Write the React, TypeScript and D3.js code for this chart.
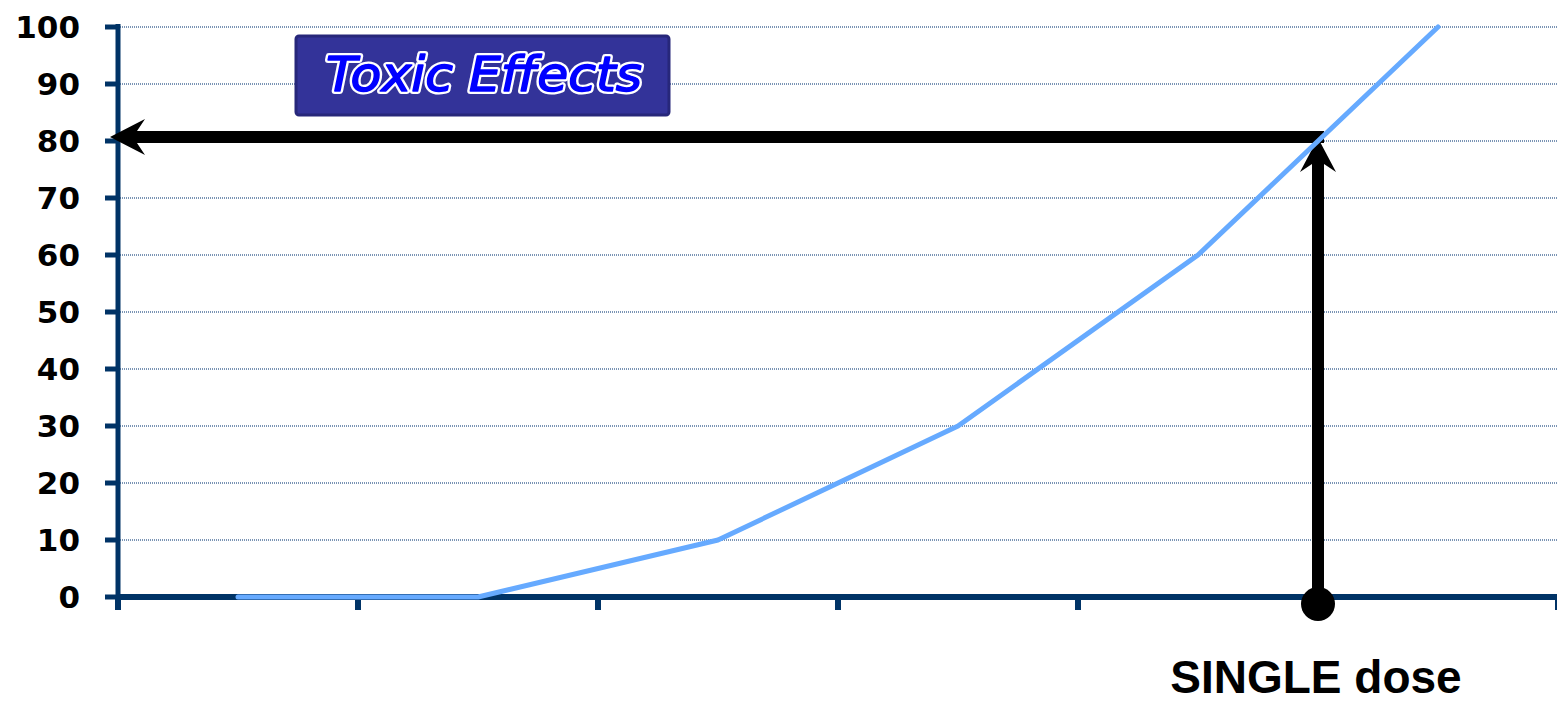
import React from "react";
import * as d3 from "d3";

// Dose levels along the horizontal axis (not labelled on the chart)
const doseLevels = ["D1", "D2", "D3", "D4", "D5", "D6"];
// Percentage of subjects showing toxic effects at each dose level
const toxicPercent = [0, 0, 10, 30, 60, 100];
// Y axis tick values
const yTicks = [0, 10, 20, 30, 40, 50, 60, 70, 80, 90, 100];
// The single dose is read at the boundary between these two levels
const singleDoseBetween = ["D5", "D6"];
const singleDoseLabel = "SINGLE dose";
const boxTitle = "Toxic Effects";

const W = 1557;
const H = 702;
const AXIS = "#003366";
const LINE = "#66aaff";
const HAND = "'Comic Sans MS', 'DejaVu Sans', sans-serif";

export default function App() {
  const x = d3.scaleBand<string>().domain(doseLevels).range([118, 1558]).paddingInner(0).paddingOuter(0);
  const y = d3.scaleLinear().domain([0, 100]).range([597, 27]);
  const cx = (d: string) => (x(d) as number) + x.bandwidth() / 2;

  const pts: [number, number][] = doseLevels.map((d, i) => [cx(d), y(toxicPercent[i])]);
  const linePath = d3.line()(pts) as string;

  // single dose position: boundary between the two dose levels, value interpolated on the curve
  const i0 = doseLevels.indexOf(singleDoseBetween[0]);
  const i1 = doseLevels.indexOf(singleDoseBetween[1]);
  const sx = x(singleDoseBetween[1]) as number;
  const t = (sx - cx(doseLevels[i0])) / (cx(doseLevels[i1]) - cx(doseLevels[i0]));
  const sVal = d3.interpolateNumber(toxicPercent[i0], toxicPercent[i1])(t);
  const sy = y(sVal) - 4;

  const x0 = x.range()[0];
  const boundaries = d3.range(doseLevels.length + 1).map((i) => x0 + i * x.bandwidth());

  // stealth-style arrowheads
  const headLeft = `M${x0 - 8},${sy} L${x0 + 27},${sy - 18} L${x0 + 15},${sy} L${x0 + 27},${sy + 18} Z`;
  const tipY = sy + 1;
  const headUp = `M${sx},${tipY} L${sx - 18},${tipY + 34} L${sx},${tipY + 22} L${sx + 18},${tipY + 34} Z`;

  return (
    <svg width={W} height={H} style={{ position: "absolute", left: 0, top: 0, background: "#fff" }}>
      {/* gridlines */}
      {yTicks.filter((v) => v > 0).map((v) => (
        <line key={"g" + v} x1={x0} x2={W} y1={y(v)} y2={y(v)} stroke="#4f729c" strokeWidth={1.4} strokeDasharray="1 1" />
      ))}

      {/* y axis */}
      <line x1={x0} x2={x0} y1={24} y2={610} stroke={AXIS} strokeWidth={5} />
      {yTicks.map((v) => (
        <g key={"t" + v}>
          <line x1={105} x2={x0} y1={y(v)} y2={y(v)} stroke={AXIS} strokeWidth={5} />
          <text x={80} y={y(v)} dy="0.37em" textAnchor="end" fontFamily={HAND} fontWeight="bold" fontSize={31} fill="#000">
            {v}
          </text>
        </g>
      ))}

      {/* x axis */}
      <line x1={x0} x2={W} y1={597} y2={597} stroke={AXIS} strokeWidth={6} />
      {boundaries.map((bx, i) => (
        <line key={"xb" + i} x1={bx} x2={bx} y1={597} y2={610} stroke={AXIS} strokeWidth={6} />
      ))}

      {/* arrows marking the single dose */}
      <line x1={x0 + 15} x2={sx + 6} y1={sy} y2={sy} stroke="#000" strokeWidth={12} />
      <path d={headLeft} fill="#000" />
      <line x1={sx} x2={sx} y1={tipY + 22} y2={604} stroke="#000" strokeWidth={12} />
      <path d={headUp} fill="#000" />
      <circle cx={sx} cy={604} r={17} fill="#000" />

      {/* dose-response curve */}
      <path d={linePath} fill="none" stroke={LINE} strokeWidth={5} strokeLinejoin="round" strokeLinecap="round" />

      {/* title box */}
      <rect x={296} y={36} width={373} height={79} rx={3} fill="#333399" stroke="#27277a" strokeWidth={3} />
      <text x={326} y={91} textLength={316} lengthAdjust="spacingAndGlyphs" fontFamily={HAND} fontStyle="italic" fontSize={48} fill="#0000ff" stroke="#ffffff" strokeWidth={6} strokeLinejoin="round" paintOrder="stroke">
        {boxTitle}
      </text>
      <text x={326} y={91} textLength={316} lengthAdjust="spacingAndGlyphs" fontFamily={HAND} fontStyle="italic" fontSize={48} fill="#0000ff" stroke="#0000ff" strokeWidth={1.5} strokeLinejoin="round">
        {boxTitle}
      </text>

      {/* x axis label */}
      <text x={sx - 2} y={693} textAnchor="middle" fontFamily="'Liberation Sans', Arial, sans-serif" fontWeight="bold" fontSize={46} fill="#000">
        {singleDoseLabel}
      </text>
    </svg>
  );
}
